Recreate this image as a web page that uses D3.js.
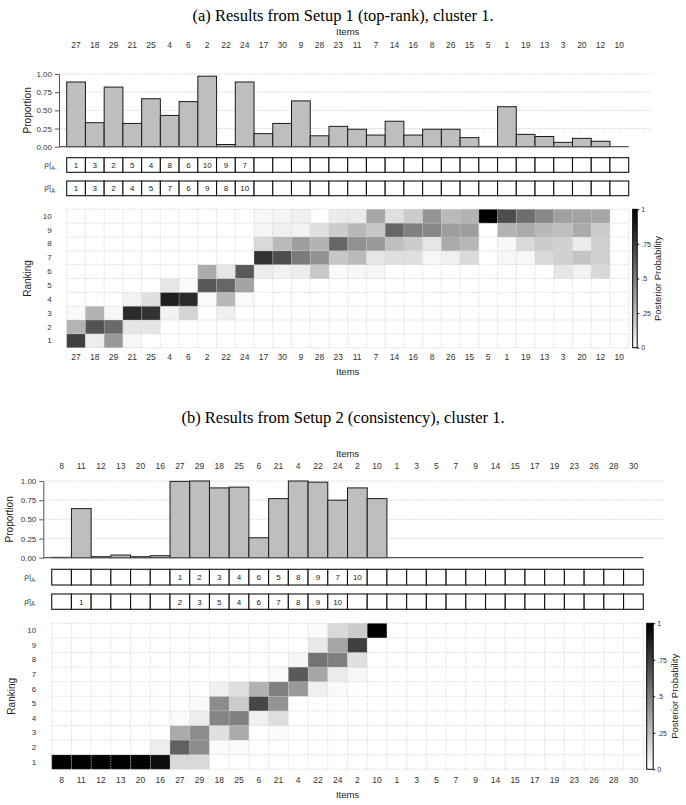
<!DOCTYPE html>
<html>
<head>
<meta charset="utf-8">
<script src="https://cdn.jsdelivr.net/npm/d3@7"></script>
<style>body{margin:0;background:#fff}</style>
</head>
<body>
<script>
// ---- panel (a) data ----
var itemsA = [27,18,29,21,25,4,6,2,22,24,17,30,9,28,23,11,7,14,16,8,26,15,5,1,19,13,3,20,12,10];
var propA = [0.89,0.33,0.82,0.32,0.66,0.43,0.62,0.97,0.03,0.89,0.18,0.32,0.63,0.15,0.28,0.24,0.16,0.35,0.16,0.24,0.24,0.125,0.005,0.55,0.17,0.14,0.06,0.115,0.075,0];
var rhoA = [1,3,2,5,4,8,6,10,9,7];
var rhoHatA = [1,3,2,4,5,7,6,9,8,10];
// posterior probability per item, ranks 1..10
var heatA = [
  [0.75,0.3,0.02,0,0,0,0,0,0,0],
  [0.07,0.68,0.3,0,0,0,0,0,0,0],
  [0.4,0.58,0.03,0,0,0,0,0,0,0],
  [0.03,0.1,0.83,0.05,0,0,0,0,0,0],
  [0,0.1,0.8,0.12,0,0,0,0,0,0],
  [0,0,0.05,0.88,0.1,0,0,0,0,0],
  [0,0,0.17,0.83,0.02,0,0,0,0,0],
  [0,0,0,0.02,0.66,0.33,0,0,0,0],
  [0,0,0.06,0.28,0.6,0.1,0,0,0,0],
  [0,0,0,0.02,0.36,0.65,0,0,0,0],
  [0,0,0,0,0,0.07,0.8,0.15,0.04,0.03],
  [0,0,0,0,0,0.05,0.7,0.27,0.06,0.04],
  [0,0,0,0,0,0.07,0.52,0.38,0.05,0.06],
  [0,0,0,0,0,0.22,0.43,0.3,0.12,0],
  [0,0,0,0,0,0.02,0.22,0.6,0.2,0.08],
  [0,0,0,0,0,0.03,0.27,0.43,0.28,0.08],
  [0,0,0,0,0,0.03,0.1,0.4,0.22,0.35],
  [0,0,0,0,0,0,0.12,0.25,0.6,0.12],
  [0,0,0,0,0,0,0.12,0.2,0.5,0.2],
  [0,0,0,0,0,0,0.03,0.1,0.47,0.42],
  [0,0,0,0,0,0,0.06,0.33,0.38,0.27],
  [0,0,0,0,0,0,0.14,0.28,0.38,0.3],
  [0,0,0,0,0,0,0,0,0,1],
  [0,0,0,0,0,0,0.03,0.03,0.3,0.7],
  [0,0,0,0,0,0,0.03,0.15,0.33,0.57],
  [0,0,0,0,0,0,0.15,0.2,0.28,0.47],
  [0,0,0,0,0,0.1,0.18,0.18,0.25,0.37],
  [0,0,0,0,0,0.05,0.23,0.08,0.33,0.36],
  [0,0,0,0,0,0.15,0.18,0.18,0.2,0.35],
  [0,0,0,0,0,0,0,0,0,0]
];

// ---- panel (b) data ----
var itemsB = [8,11,12,13,20,16,27,29,18,25,6,21,4,22,24,2,10,1,3,5,7,9,14,15,17,19,23,26,28,30];
var propB = [0.005,0.64,0.013,0.035,0.013,0.026,0.995,1.0,0.91,0.92,0.26,0.77,1.0,0.985,0.75,0.91,0.77,0,0,0,0,0,0,0,0,0,0,0,0,0];
var rhoB = [null,null,null,null,null,null,1,2,3,4,6,5,8,9,7,10];
var rhoHatB = [null,1,null,null,null,null,2,3,5,4,6,7,8,9,10];
var heatB = [
  [1,0,0,0,0,0,0,0,0,0],
  [1,0,0,0,0,0,0,0,0,0],
  [1,0,0,0,0,0,0,0,0,0],
  [1,0,0,0,0,0,0,0,0,0],
  [1,0,0,0,0,0,0,0,0,0],
  [0.95,0.07,0,0,0,0,0,0,0,0],
  [0.15,0.62,0.33,0.02,0,0,0,0,0,0],
  [0.15,0.45,0.45,0.07,0.02,0,0,0,0,0],
  [0,0.02,0.12,0.48,0.45,0.06,0,0,0,0],
  [0,0.02,0.33,0.5,0.2,0.13,0,0,0,0],
  [0,0,0,0.06,0.72,0.3,0,0,0,0],
  [0,0,0.02,0.13,0.42,0.5,0.02,0,0,0],
  [0,0,0,0,0,0.4,0.65,0.04,0,0],
  [0,0,0,0,0,0.06,0.35,0.55,0.09,0.02],
  [0,0,0,0,0,0.02,0.08,0.5,0.35,0.15],
  [0,0,0,0,0,0,0.03,0.12,0.75,0.2],
  [0,0,0,0,0,0,0,0,0,1],
  [0,0,0,0,0,0,0,0,0,0],[0,0,0,0,0,0,0,0,0,0],[0,0,0,0,0,0,0,0,0,0],
  [0,0,0,0,0,0,0,0,0,0],[0,0,0,0,0,0,0,0,0,0],[0,0,0,0,0,0,0,0,0,0],
  [0,0,0,0,0,0,0,0,0,0],[0,0,0,0,0,0,0,0,0,0],[0,0,0,0,0,0,0,0,0,0],
  [0,0,0,0,0,0,0,0,0,0],[0,0,0,0,0,0,0,0,0,0],[0,0,0,0,0,0,0,0,0,0],
  [0,0,0,0,0,0,0,0,0,0]
];
var ranks = [1,2,3,4,5,6,7,8,9,10];
var propTicks = [0,0.25,0.5,0.75,1];

var sans = "Liberation Sans, Arial, sans-serif";
var svg = d3.select("body").append("svg").attr("width",686).attr("height",805);

var defs = svg.append("defs");
var grad = defs.append("linearGradient").attr("id","cb").attr("x1",0).attr("y1",1).attr("x2",0).attr("y2",0);
grad.append("stop").attr("offset","0%").attr("stop-color","#fff");
grad.append("stop").attr("offset","100%").attr("stop-color","#000");

var grey = d3.scaleLinear().domain([0,1]).range(["#ffffff","#000000"]);

function styleAxis(g, size) {
  g.attr("font-family", sans).attr("font-size", size);
  g.selectAll("text").attr("fill","#333");
}

function drawPanel(L, items, prop, rho, rhoHat, heat) {
  var x = d3.scaleBand().domain(items).range([L.x0, L.x1]);
  var y = d3.scaleLinear().domain([0,1]).range([L.barBot, L.barTop]);
  var bw = x.bandwidth();

  svg.append("text").attr("x",343).attr("y",L.titleY).attr("text-anchor","middle")
    .attr("font-family","Liberation Serif, Times New Roman, serif").attr("font-size",16.5)
    .text(L.title);

  // items on top
  svg.append("text").attr("x",(L.x0+L.x1)/2).attr("y",L.itemsTopY).attr("text-anchor","middle")
    .attr("font-family",sans).attr("font-size",9.5).attr("fill","#222").text("Items");
  var ta = svg.append("g").attr("transform","translate(0,"+L.topTickY+")")
    .call(d3.axisTop(x).tickSize(0).tickPadding(0));
  ta.select(".domain").remove();
  styleAxis(ta, 8.5);

  // gridlines
  svg.append("g").selectAll("line").data(propTicks.slice(1)).enter().append("line")
    .attr("x1",L.axisX).attr("x2",L.gridEnd)
    .attr("y1",function(d){return y(d);}).attr("y2",function(d){return y(d);})
    .attr("stroke","#bbb").attr("stroke-width",0.8).attr("stroke-dasharray","1,1.5");

  // bars
  svg.append("g").selectAll("rect").data(prop).enter().append("rect")
    .attr("x",function(d,i){return x(items[i]);})
    .attr("y",function(d){return y(d);})
    .attr("width",bw)
    .attr("height",function(d){return y(0)-y(d);})
    .attr("fill","#bebebe").attr("stroke","#1a1a1a").attr("stroke-width",1);

  // baseline
  svg.append("line").attr("x1",L.axisX).attr("x2",L.x1).attr("y1",y(0)).attr("y2",y(0))
    .attr("stroke","#555").attr("stroke-width",1.2);

  var ya = svg.append("g").attr("transform","translate("+L.axisX+",0)")
    .call(d3.axisLeft(y).tickValues(propTicks).tickFormat(d3.format(".2f")).tickSize(4).tickSizeOuter(0).tickPadding(3));
  ya.select(".domain").attr("stroke","#555");
  ya.selectAll(".tick line").attr("stroke","#555");
  styleAxis(ya, 8);

  svg.append("text").attr("transform","translate("+L.propLabX+","+((L.barTop+L.barBot)/2)+") rotate(-90)")
    .attr("text-anchor","middle").attr("font-family",sans).attr("font-size",10).attr("fill","#222").text("Proportion");

  // rho rows
  function rhoRow(vals, y0, y1, hat) {
    var g = svg.append("g");
    g.selectAll("rect").data(items).enter().append("rect")
      .attr("x",function(d){return x(d);}).attr("y",y0).attr("width",bw).attr("height",y1-y0)
      .attr("fill","#fff").attr("stroke","#111").attr("stroke-width",1.1);
    g.selectAll("text").data(items).enter().append("text")
      .attr("x",function(d){return x(d)+bw/2;}).attr("y",(y0+y1)/2+3)
      .attr("text-anchor","middle").attr("font-family",sans).attr("font-size",8).attr("fill","#222")
      .text(function(d,i){return vals[i]==null?"":vals[i];});
    var lab = svg.append("text").attr("x",L.rhoLabX).attr("y",(y0+y1)/2+2)
      .attr("text-anchor","end").attr("font-family",sans).attr("font-size",8).attr("fill","#333");
    lab.append("tspan").text(hat ? "\u03c1\u0302|" : "\u03c1|");
    lab.append("tspan").attr("dy",2.5).attr("font-size",6).text(hat ? "A\u0302\u00b7" : "A\u00b7");
  }
  rhoRow(rho, L.rho0, L.rho1, false);
  rhoRow(rhoHat, L.rhh0, L.rhh1, true);

  // heatmap
  var yb = d3.scaleBand().domain(ranks.slice().reverse()).range([L.heatTop, L.heatBot]);
  var cells = [];
  items.forEach(function(it, i){
    ranks.forEach(function(r, j){ cells.push({item: it, rank: r, v: heat[i][j]}); });
  });
  svg.append("g").selectAll("rect").data(cells).enter().append("rect")
    .attr("x",function(d){return x(d.item);}).attr("y",function(d){return yb(d.rank);})
    .attr("width",bw).attr("height",yb.bandwidth())
    .attr("fill",function(d){return grey(d.v);});
  var gg = svg.append("g").attr("stroke","#c4c4c4").attr("stroke-width",0.8).attr("stroke-dasharray","1,1.5");
  var vx = items.map(function(d){return x(d);}).concat([L.x1]);
  gg.selectAll(".v").data(vx).enter().append("line")
    .attr("x1",function(d){return d;}).attr("x2",function(d){return d;})
    .attr("y1",L.heatTop).attr("y2",L.heatBot);
  var hy = ranks.map(function(r){return yb(r);}).concat([L.heatBot]);
  gg.selectAll(".h").data(hy).enter().append("line")
    .attr("x1",L.x0).attr("x2",L.x1)
    .attr("y1",function(d){return d;}).attr("y2",function(d){return d;});

  var ba = svg.append("g").attr("transform","translate(0,"+L.heatBot+")")
    .call(d3.axisBottom(x).tickSize(0).tickPadding(L.botPad));
  ba.select(".domain").remove();
  styleAxis(ba, 8.5);
  var ra = svg.append("g").attr("transform","translate("+L.x0+",0)")
    .call(d3.axisLeft(yb).tickSize(0).tickPadding(L.rankPad));
  ra.select(".domain").remove();
  styleAxis(ra, 8);

  svg.append("text").attr("x",(L.x0+L.x1)/2).attr("y",L.itemsBotY).attr("text-anchor","middle")
    .attr("font-family",sans).attr("font-size",9.5).attr("fill","#222").text("Items");
  svg.append("text").attr("transform","translate("+L.rankLabX+","+((L.heatTop+L.heatBot)/2)+") rotate(-90)")
    .attr("text-anchor","middle").attr("font-family",sans).attr("font-size",10).attr("fill","#222").text("Ranking");

  // colour bar
  var yc = d3.scaleLinear().domain([0,1]).range([L.heatBot, L.heatTop]);
  svg.append("rect").attr("x",L.cbX).attr("y",L.heatTop).attr("width",L.cbW).attr("height",L.heatBot-L.heatTop)
    .attr("fill","url(#cb)").attr("stroke","#000").attr("stroke-width",1);
  var ca = svg.append("g").attr("transform","translate("+(L.cbX+L.cbW)+",0)")
    .call(d3.axisRight(yc).tickValues(propTicks).tickSize(2).tickPadding(2)
      .tickFormat(function(d){return d===0?"0":d===1?"1":String(d).replace("0.",".");}));
  ca.select(".domain").remove();
  styleAxis(ca, 7);
  svg.append("text").attr("transform","translate("+L.cbLabX+","+((L.heatTop+L.heatBot)/2)+") rotate(-90)")
    .attr("text-anchor","middle").attr("font-family",sans).attr("font-size",9.5).attr("fill","#222").text("Posterior Probability");
}

drawPanel({
  title:"(a) Results from Setup 1 (top-rank), cluster 1.", titleY:21,
  x0:66.7, x1:628.7, itemsTopY:35, topTickY:48,
  barTop:74, barBot:146.7, axisX:59, gridEnd:650, propLabX:31,
  rho0:157.7, rho1:172.3, rhh0:181, rhh1:195.7, rhoLabX:57,
  heatTop:209.3, heatBot:347.7, botPad:6, rankPad:15, itemsBotY:375, rankLabX:31,
  cbX:632.7, cbW:4.5, cbLabX:661
}, itemsA, propA, rhoA, rhoHatA, heatA);

drawPanel({
  title:"(b) Results from Setup 2 (consistency), cluster 1.", titleY:423,
  x0:51.7, x1:643.3, itemsTopY:457, topTickY:469,
  barTop:481, barBot:557.7, axisX:43.3, gridEnd:665, propLabX:13,
  rho0:569.3, rho1:585, rhh0:594, rhh1:609.3, rhoLabX:37,
  heatTop:623.3, heatBot:769.3, botPad:8, rankPad:15.5, itemsBotY:798, rankLabX:15,
  cbX:646.7, cbW:6.5, cbLabX:678
}, itemsB, propB, rhoB, rhoHatB, heatB);
</script>
</body>
</html>
